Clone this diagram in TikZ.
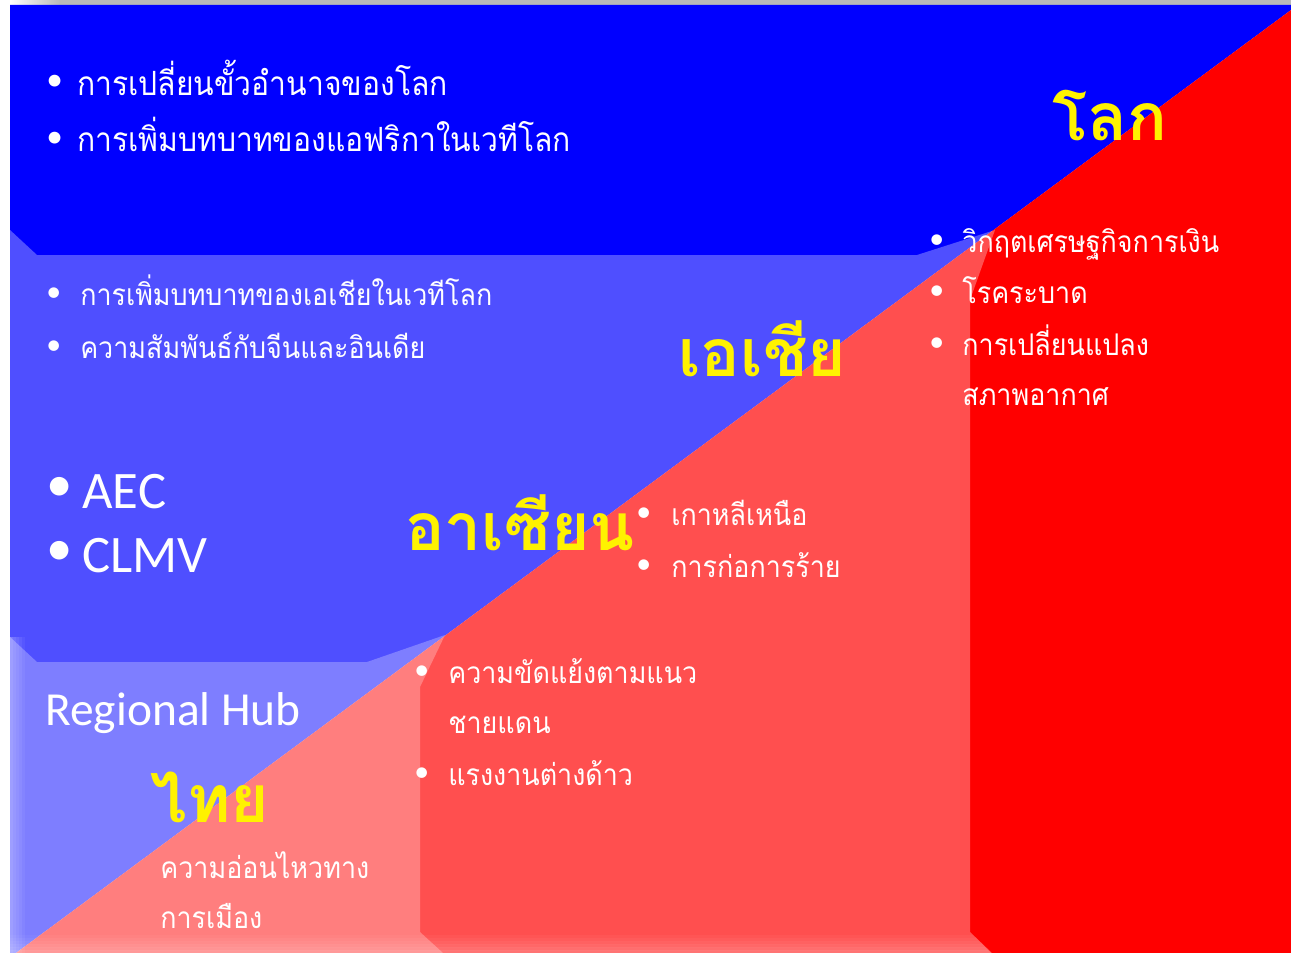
\documentclass[tikz,border=0pt]{standalone}
\usepackage{fontspec}
\setmainfont{Carlito}
\newfontfamily\thaifont[Script=Thai, FakeStretch=0.9]{Loma}
\newfontfamily\thaititle[Script=Thai]{Loma}

% bullet kept in a box of fixed width
\newcommand\bul[1]{\makebox[#1][l]{\raisebox{0.12em}{\rmfamily •}}}

\begin{document}
\begin{tikzpicture}[x=0.02cm, y=-0.02cm,
    item/.style={anchor=base west, inner sep=0pt, text=white, font=\thaifont\fontsize{17}{17}\selectfont},
    bigitem/.style={item, font=\thaifont\fontsize{19}{19}\selectfont},
    latinitem/.style={item, font=\fontsize{30}{30}\selectfont},
    title/.style={anchor=base west, inner sep=0pt, text=yellow, font=\thaititle\bfseries\fontsize{37.5}{37.5}\selectfont}]
  \useasboundingbox (0,0) rectangle (1291,953);

  % Draw the slide background
  \fill[white] (0,0) rectangle (1291,953);
  \shade[left color=white, right color=gray!55] (10,0) rectangle (60,5);
  \fill[gray!55] (60,0) rectangle (1291,5);
  \fill[blue] (10,5) -- (1291,5) -- (1291,10) -- (16,953) -- (10,953) -- cycle;
  \fill[red] (1291,10) -- (1291,953) -- (16,953) -- cycle;

  % Draw the two bevelled boxes
  \fill[white, opacity=.31] (10,230) -- (37,255) -- (917,255) -- (995,230) -- (970,300)
    -- (970,932) -- (992,953) -- (10,953) -- cycle;
  \fill[white, opacity=.27] (10,637) -- (37,662) -- (367,662) -- (445,635) -- (420,687)
    -- (420,932) -- (443,953) -- (10,953) -- cycle;

  % lighter bottom and left edges
  \foreach \i in {0,...,6}
    \fill[white, opacity=.035*\i] (10,{932+3*\i}) -- ({970+3*\i},{932+3*\i})
      -- ({973+3*\i},{935+3*\i}) -- (10,{935+3*\i}) -- cycle;
  \foreach \i in {0,...,4}
    \fill[white, opacity=.05*(5-\i)] ({10+3*\i},637) rectangle ({13+3*\i},953);

  % World
  \node[title] (lok) at (1052,140) {โลก};
  \node[bigitem] (lok1) at (46,95) {\bul{17.6pt}การเปลี่ยนขั้วอำนาจของโลก};
  \node[bigitem] (lok2) at (46,152) {\bul{17.6pt}การเพิ่มบทบาทของแอฟริกาในเวทีโลก};
  \node[item] (lok3) at (929,252) {\bul{18.8pt}วิกฤตเศรษฐกิจการเงิน};
  \node[item] (lok4) at (929,303) {\bul{18.8pt}โรคระบาด};
  \node[item] (lok5) at (929,355) {\bul{18.8pt}การเปลี่ยนแปลง};
  \node[item] (lok6) at (962,405) {สภาพอากาศ};

  % Asia
  \node[title] (asia) at (678,376) {เอเชีย};
  \node[item] (asia1) at (46,305) {\bul{19.3pt}การเพิ่มบทบาทของเอเชียในเวทีโลก};
  \node[item] (asia2) at (46,358) {\bul{19.3pt}ความสัมพันธ์กับจีนและอินเดีย};

  % ASEAN
  \node[title] (asean) at (405,550) {อาเซียน};
  \node[latinitem] (asean1) at (46,508) {\bul{20.5pt}AEC};
  \node[latinitem] (asean2) at (46,572) {\bul{20.5pt}CLMV};
  \node[item] (asean3) at (636,525) {\bul{19.9pt}เกาหลีเหนือ};
  \node[item] (asean4) at (636,577) {\bul{19.9pt}การก่อการร้าย};

  % Thailand
  \node[title] (thai) at (150,822) {ไทย};
  \node[item, font=\fontsize{27}{27}\selectfont] (hub) at (45,725) {Regional Hub};
  \node[item] (thai1) at (414,683) {\bul{19.3pt}ความขัดแย้งตามแนว};
  \node[item] (thai2) at (448,733) {ชายแดน};
  \node[item] (thai3) at (414,785) {\bul{19.3pt}แรงงานต่างด้าว};
  \node[item] (thai4) at (160,878) {ความอ่อนไหวทาง};
  \node[item] (thai5) at (160,928) {การเมือง};
\end{tikzpicture}
\end{document}
